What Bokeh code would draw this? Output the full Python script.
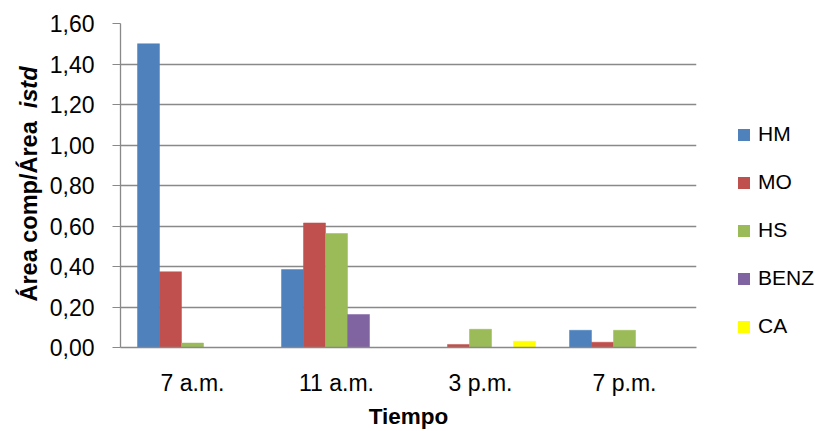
import math
from bokeh.plotting import figure
from bokeh.layouts import row
from bokeh.models import (ColumnDataSource, FactorRange, FixedTicker, CustomJSTickFormatter,
                          Legend, LegendItem, Label)
from bokeh.transform import dodge
from bokeh.embed import file_html
from bokeh.resources import INLINE

# ---- data ----
categories = ["7 a.m.", "11 a.m.", "3 p.m.", "7 p.m."]
series_names = ["HM", "MO", "HS", "BENZ", "CA"]
HM = [1.50, 0.385, 0.0, 0.085]
MO = [0.374, 0.615, 0.015, 0.026]
HS = [0.022, 0.563, 0.090, 0.085]
BENZ = [0.0, 0.163, 0.0, 0.0]
CA = [0.0, 0.0, 0.031, 0.0]
y_ticks = [0.0, 0.2, 0.4, 0.6, 0.8, 1.0, 1.2, 1.4, 1.6]
y_title_main = "Área comp/Área"
y_title_ital = "istd"
x_title = "Tiempo"

colors = ["#4F81BD", "#C0504D", "#9BBB59", "#8064A2", "#FFFF00"]
FONT = "Liberation Sans"
GRID = "#898989"
H = 431

source = ColumnDataSource(dict(cat=categories, HM=HM, MO=MO, HS=HS, BENZ=BENZ, CA=CA))

# ---- left strip with the y title (frame aligned with the main chart) ----
pt = figure(width=46, height=H, output_backend="svg", toolbar_location=None,
            x_axis_location=None, y_axis_location=None, min_border=0,
            x_range=(0, 1), y_range=(0, 1))
pt.outline_line_color = None
pt.grid.grid_line_color = None
lab1 = Label(x=28, y=46, x_units="screen", y_units="screen", angle=math.pi / 2,
             text=y_title_main, text_font=FONT, text_font_size="23.5px", text_font_style="bold",
             text_align="left", text_baseline="middle", text_color="black")
lab2 = Label(x=28, y=281, x_units="screen", y_units="screen", angle=math.pi / 2,
             text=y_title_ital, text_font=FONT, text_font_size="23.5px", text_font_style="bold italic",
             text_align="right", text_baseline="middle", text_color="black")
pt.add_layout(lab1)
pt.add_layout(lab2)

# ---- main chart ----
p = figure(width=651, height=H, x_range=FactorRange(*categories, range_padding=0),
           y_range=(0, 1.6), output_backend="svg", toolbar_location=None,
           min_border_left=73, min_border_right=1, min_border_top=23, min_border_bottom=83)
p.outline_line_color = None

bw = 0.1528
offsets = [-2 * bw, -bw, 0, bw, 2 * bw]
for name, col, off in zip(series_names, colors, offsets):
    p.vbar(x=dodge("cat", off, range=p.x_range), top=name, width=bw, source=source,
           fill_color=col, line_color=col, line_width=0.5)

p.yaxis.ticker = FixedTicker(ticks=y_ticks)
p.yaxis.formatter = CustomJSTickFormatter(code="return tick.toFixed(2).replace('.', ',');")
p.yaxis.major_tick_out = 8
p.yaxis.major_tick_in = 0
p.yaxis.minor_tick_line_color = None
p.yaxis.axis_line_color = GRID
p.yaxis.major_tick_line_color = GRID
p.yaxis.axis_line_width = 1.3
p.yaxis.major_label_standoff = 18
p.yaxis.major_label_text_font = FONT
p.yaxis.major_label_text_font_size = "23px"
p.yaxis.major_label_text_color = "black"

p.xaxis.major_tick_line_color = None
p.xaxis.minor_tick_line_color = None
p.xaxis.axis_line_color = GRID
p.xaxis.axis_line_width = 1.3
p.xaxis.major_label_standoff = 16
p.xaxis.major_label_text_font = FONT
p.xaxis.major_label_text_font_size = "23px"
p.xaxis.major_label_text_color = "black"
p.xaxis.axis_label = x_title
p.xaxis.axis_label_text_font = FONT
p.xaxis.axis_label_text_font_size = "22.5px"
p.xaxis.axis_label_text_font_style = "bold"
p.xaxis.axis_label_text_color = "black"
p.xaxis.axis_label_standoff = 5

p.xgrid.grid_line_color = None
p.ygrid.grid_line_color = GRID
p.ygrid.grid_line_width = 1.3

# ---- right strip with the legend (frame aligned with the main chart) ----
pl = figure(width=118, height=H, output_backend="svg", toolbar_location=None,
            x_axis_location=None, y_axis_location=None, min_border=0,
            x_range=(0, 1), y_range=(0, 1))
pl.outline_line_color = None
pl.grid.grid_line_color = None
proxy = ColumnDataSource(dict(x=[0.5], top=[0.0]))  # zero-height proxy, only for legend swatches
items = []
for name, col in zip(series_names, colors):
    r = pl.vbar(x="x", top="top", width=0.1, source=proxy, fill_color=col, line_color=None)
    items.append(LegendItem(label=name, renderers=[r]))
legend = Legend(items=items, location=(39, 6), orientation="vertical",
                glyph_width=15, glyph_height=15, label_height=30, spacing=18,
                label_standoff=7, padding=0, margin=0, border_line_color=None,
                background_fill_alpha=0, label_text_font=FONT, label_text_font_size="21px",
                label_text_color="black")
pl.add_layout(legend, "center")

layout = row(pt, p, pl, spacing=0)
open("out.html", "w").write(file_html(layout, INLINE))
